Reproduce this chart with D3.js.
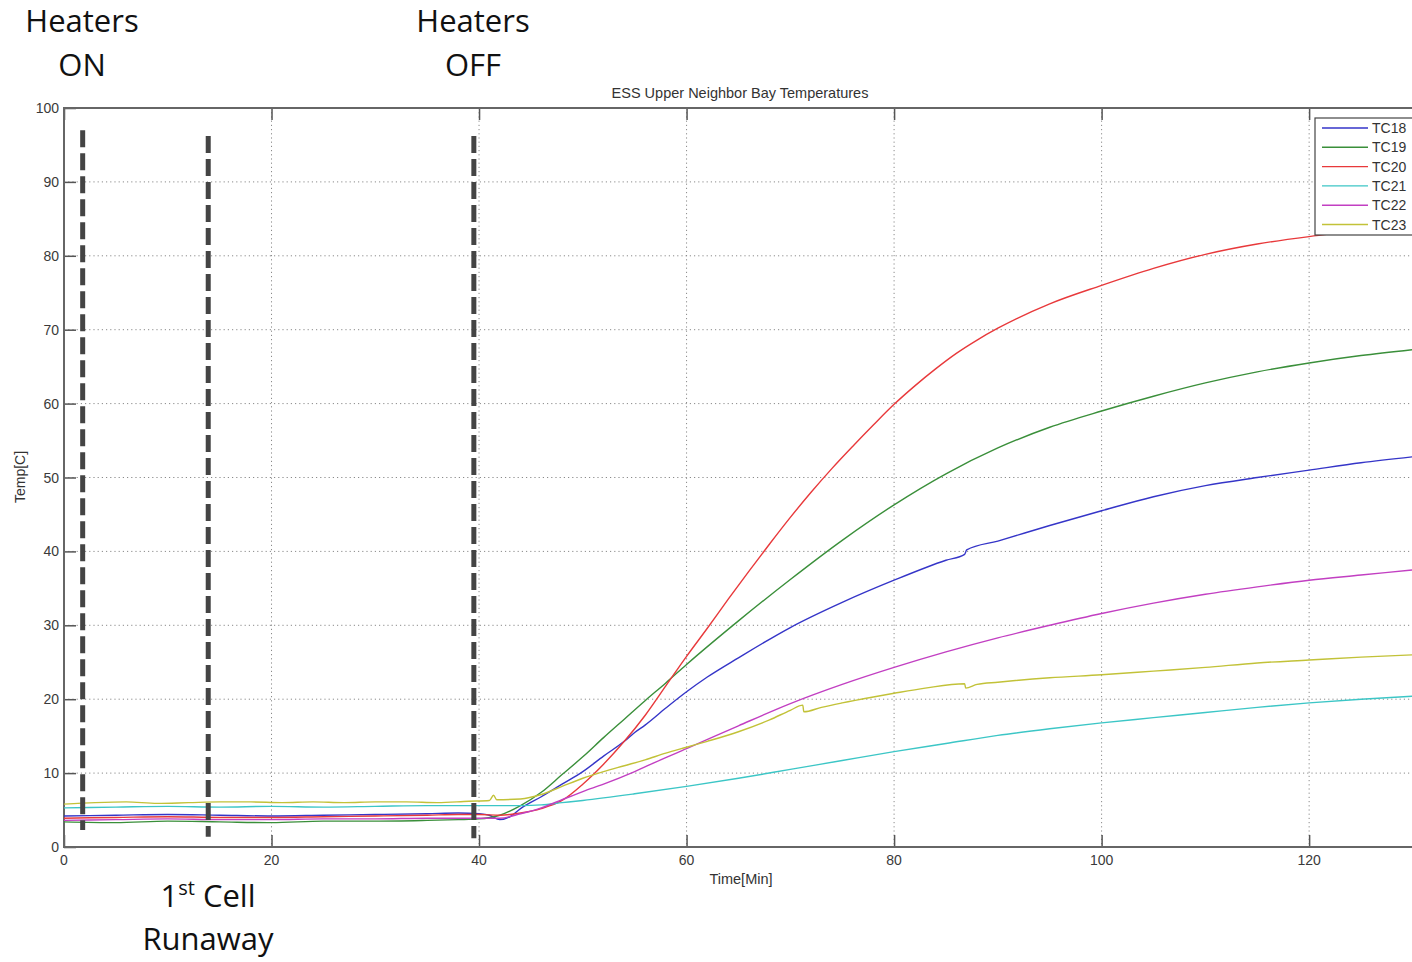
<!DOCTYPE html>
<html>
<head>
<meta charset="utf-8">
<script src="https://cdn.jsdelivr.net/npm/d3@7"></script>
<style>
  body { margin: 0; background: #fff; }
  svg { display: block; }
  .grid line { stroke: #8a8a8a; stroke-dasharray: 1.2,3; }
  .tick-label { font-family: "Liberation Sans", Arial, sans-serif; font-size: 14px; fill: #3a3a3a; }
  .note { font-family: "Open Sans", sans-serif; font-size: 31px; fill: #111; }
</style>
</head>
<body>
<svg id="chart" width="1412" height="962"></svg>
<script>
// ESS upper neighbor bay temperatures

const seriesNames = ["TC18", "TC19", "TC20", "TC21", "TC22", "TC23"];
const seriesColors = ["#3535c8", "#3a8f3a", "#e8393b", "#3cc6c6", "#c23fc2", "#c2c238"];

const tc18 = [[0,4.2],[5,4.3],[10,4.4],[15,4.3],[20,4.2],[25,4.3],[30,4.4],[35,4.5],[38,4.6],[40,4.5],[41,4.3],[42,3.7],[43,4.1],[44,5.2],[46,6.8],[48,8.5],[50,10.2],[52,12.3],[54,14.3],[55,15.5],[56,16.5],[58,18.8],[60,21],[62,23],[65,25.6],[70,29.7],[75,33.1],[80,36.1],[85,38.8],[86.8,39.6],[87,40.2],[90,41.4],[95,43.5],[100,45.5],[105,47.4],[110,48.9],[115,50],[120,51],[125,52],[130,52.8]];
const tc19 = [[0,3.4],[5,3.3],[10,3.5],[15,3.4],[20,3.3],[25,3.5],[30,3.5],[35,3.6],[38,3.7],[40,3.8],[42,4.3],[44,5.6],[46,7.4],[48,9.8],[50,12.2],[52,14.8],[54,17.3],[56,19.8],[58,22.2],[60,24.7],[65,30.6],[70,36.2],[75,41.5],[80,46.3],[85,50.5],[90,54],[95,56.8],[100,59],[105,61],[110,62.8],[115,64.3],[120,65.5],[125,66.5],[130,67.3]];
const tc20 = [[0,3.9],[5,4.0],[10,4.1],[15,4.0],[20,4.0],[25,4.1],[30,4.2],[35,4.3],[38,4.4],[40,4.4],[42,4.3],[44,4.6],[46,5.2],[48,6.3],[50,8.5],[52,11.2],[54,14.3],[56,17.8],[58,21.8],[60,25.8],[62,29.6],[64,33.5],[66,37.3],[68,41],[70,44.6],[72,48],[74,51.2],[76,54.2],[78,57.1],[80,59.9],[82,62.4],[84,64.7],[86,66.8],[88,68.6],[90,70.2],[95,73.5],[100,76],[105,78.3],[110,80.2],[115,81.6],[120,82.6],[125,83.4],[130,84.1]];
const tc21 = [[0,5.3],[5,5.4],[10,5.5],[15,5.4],[20,5.5],[25,5.4],[30,5.5],[35,5.6],[40,5.6],[44,5.6],[46,5.7],[48,6.0],[50,6.3],[55,7.2],[60,8.2],[65,9.3],[70,10.5],[75,11.7],[80,12.9],[85,14],[90,15.1],[95,16],[100,16.8],[105,17.5],[110,18.2],[115,18.9],[120,19.5],[125,20],[130,20.4]];
const tc22 = [[0,3.6],[5,3.7],[10,3.8],[15,3.7],[20,3.7],[25,3.8],[30,3.8],[35,3.9],[40,3.9],[42,3.9],[44,4.5],[46,5.3],[48,6.4],[50,7.5],[52,8.5],[55,10.2],[57.5,11.8],[60,13.3],[65,16.4],[70,19.4],[75,22],[80,24.3],[85,26.4],[90,28.3],[95,30],[100,31.6],[105,33],[110,34.2],[115,35.2],[120,36.1],[125,36.8],[130,37.5]];
const tc23 = [[0,5.8],[3,6.0],[6,6.1],[9,5.9],[12,6.0],[15,6.1],[18,6.1],[21,6.0],[24,6.1],[27,6.0],[30,6.1],[33,6.1],[36,6.0],[39,6.2],[41,6.3],[41.4,7.0],[41.7,6.4],[44,6.5],[46,7.1],[48,8.2],[50,9.3],[52,10.2],[54,11],[56,11.8],[58,12.7],[60,13.5],[62,14.3],[65,15.6],[68,17.2],[70,18.5],[71.2,19.2],[71.3,18.3],[73,18.9],[75,19.5],[78,20.3],[80,20.8],[83,21.5],[86.8,22.1],[86.9,21.5],[88,22],[90,22.3],[95,22.9],[100,23.3],[105,23.8],[110,24.3],[115,24.9],[120,25.3],[125,25.7],[130,26]];
const seriesData = [tc18, tc19, tc20, tc21, tc22, tc23];

const xTicks = [0, 20, 40, 60, 80, 100, 120];
const yTicks = [0, 10, 20, 30, 40, 50, 60, 70, 80, 90, 100];

// dashed event markers: time, top temp, bottom temp
const markerTimes = [1.8, 13.9, 39.5];
const markerTops = [97, 96.2, 96.2];
const markerBottoms = [2.3, 1.4, 1.2];

const svg = d3.select("#chart");
const plotLeft = 64, plotRight = 1416, plotTop = 108, plotBottom = 847;

const x = d3.scaleLinear().domain([0, 130.3]).range([plotLeft, plotRight]);
const y = d3.scaleLinear().domain([0, 100]).range([plotBottom, plotTop]);

// grid
const grid = svg.append("g").attr("class", "grid");
grid.selectAll("line.gx").data(xTicks.filter(d => d > 0))
  .join("line").attr("class", "gx")
  .attr("x1", d => x(d)).attr("x2", d => x(d))
  .attr("y1", plotTop).attr("y2", plotBottom);
grid.selectAll("line.gy").data(yTicks.filter(d => d > 0 && d < 100))
  .join("line").attr("class", "gy")
  .attr("x1", plotLeft).attr("x2", plotRight)
  .attr("y1", d => y(d)).attr("y2", d => y(d));

// axes (ticks drawn inward like matlab)
const xAxis = svg.append("g").attr("transform", `translate(0,${plotBottom})`)
  .call(d3.axisTop(x).tickValues(xTicks).tickSize(12).tickFormat(""));
const xAxisTop = svg.append("g").attr("transform", `translate(0,${plotTop})`)
  .call(d3.axisBottom(x).tickValues(xTicks).tickSize(12).tickFormat(""));
const yAxis = svg.append("g").attr("transform", `translate(${plotLeft},0)`)
  .call(d3.axisRight(y).tickValues(yTicks).tickSize(12).tickFormat(""));
[xAxis, xAxisTop, yAxis].forEach(g => {
  g.select(".domain").remove();
  g.selectAll(".tick line").attr("stroke", "#555").attr("stroke-width", 1.5);
});

svg.append("g").selectAll("text").data(xTicks).join("text")
  .attr("class", "tick-label")
  .attr("x", d => x(d)).attr("y", 865)
  .attr("text-anchor", "middle")
  .text(d => d);
svg.append("g").selectAll("text").data(yTicks).join("text")
  .attr("class", "tick-label")
  .attr("x", 59).attr("y", d => y(d) + 5)
  .attr("text-anchor", "end")
  .text(d => d);

// box
svg.append("path")
  .attr("d", `M${plotRight + 20},${plotTop}H${plotLeft}V${plotBottom}H${plotRight + 20}`)
  .attr("fill", "none").attr("stroke", "#666").attr("stroke-width", 2);

// series
const line = d3.line().x(d => x(d[0])).y(d => y(d[1])).curve(d3.curveMonotoneX);
svg.append("g").selectAll("path").data(seriesData).join("path")
  .attr("d", line)
  .attr("fill", "none")
  .attr("stroke", (d, i) => seriesColors[i])
  .attr("stroke-width", 1.4);

// markers
svg.append("g").selectAll("line").data(markerTimes).join("line")
  .attr("x1", d => x(d)).attr("x2", d => x(d))
  .attr("y1", (d, i) => y(markerTops[i])).attr("y2", (d, i) => y(markerBottoms[i]))
  .attr("stroke", "#444").attr("stroke-width", 5)
  .attr("stroke-dasharray", "17,6");

// titles
const labelFont = "Liberation Sans, Arial, sans-serif";
svg.append("text").attr("x", 740).attr("y", 98)
  .attr("text-anchor", "middle")
  .style("font-family", labelFont).style("font-size", "14.5px").style("fill", "#333")
  .text("ESS Upper Neighbor Bay Temperatures");
svg.append("text").attr("x", 741).attr("y", 884)
  .attr("text-anchor", "middle")
  .style("font-family", labelFont).style("font-size", "14.5px").style("fill", "#333")
  .text("Time[Min]");
svg.append("text").attr("transform", "translate(25,477) rotate(-90)")
  .attr("text-anchor", "middle")
  .style("font-family", labelFont).style("font-size", "14px").style("fill", "#333")
  .text("Temp[C]");

// legend
const legend = svg.append("g").attr("transform", "translate(1315,118)");
legend.append("rect").attr("width", 120).attr("height", 117)
  .attr("fill", "#fff").attr("stroke", "#444").attr("stroke-width", 1.2);
seriesNames.forEach((name, i) => {
  const ly = 10 + i * 19.3;
  legend.append("line").attr("x1", 7).attr("x2", 53).attr("y1", ly).attr("y2", ly)
    .attr("stroke", seriesColors[i]).attr("stroke-width", 1.4);
  legend.append("text").attr("x", 57).attr("y", ly + 5)
    .style("font-family", labelFont).style("font-size", "14px").style("fill", "#333")
    .text(name);
});

// annotations
const notes = [
  { x: 82, y: 32, text: "Heaters" },
  { x: 82, y: 76, text: "ON" },
  { x: 473, y: 32, text: "Heaters" },
  { x: 473, y: 76, text: "OFF" },
  { x: 208, y: 950, text: "Runaway" }
];
svg.append("g").selectAll("text").data(notes).join("text")
  .attr("class", "note")
  .attr("x", d => d.x).attr("y", d => d.y)
  .attr("text-anchor", "middle")
  .text(d => d.text);
const cell = svg.append("text").attr("class", "note")
  .attr("x", 208).attr("y", 907).attr("text-anchor", "middle");
cell.append("tspan").text("1");
cell.append("tspan").attr("dy", -12).style("font-size", "20px").text("st");
cell.append("tspan").attr("dy", 12).text(" Cell");
</script>
</body>
</html>
